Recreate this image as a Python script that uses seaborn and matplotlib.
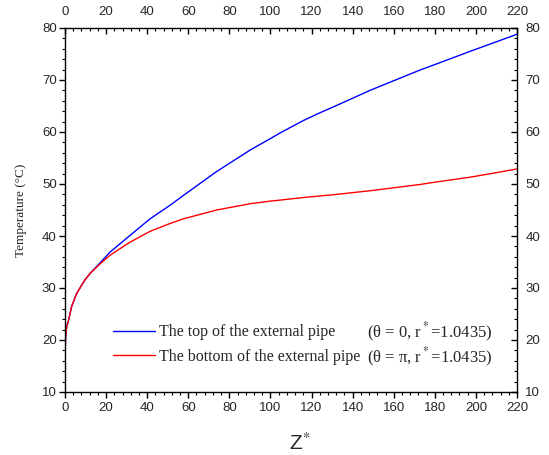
import numpy as np
import pandas as pd
import matplotlib
matplotlib.use("Agg")
import matplotlib.pyplot as plt
from matplotlib.ticker import MultipleLocator
from matplotlib.lines import Line2D
import seaborn as sns

z_top = [0, 0.1, 0.3, 0.8, 1.8, 3.2, 5.6, 9.6, 12.2, 17, 21.9, 31.6, 41.4, 51.1, 57.6, 73.8, 90,
         99.8, 104.6, 116, 124.1, 132.2, 148.4, 164.6, 172.7, 180.9, 197.1, 211.7, 220]
t_top = [15, 18, 20.6, 22.5, 23.9, 26.4, 28.9, 31.5, 32.8, 34.8, 36.9, 40.1, 43.3, 45.9, 47.8, 52.4, 56.5,
         58.7, 59.8, 62.2, 63.7, 65.1, 68.0, 70.6, 71.9, 73.1, 75.5, 77.6, 78.8]
z_bot = [0, 0.1, 0.3, 0.8, 1.8, 3.2, 5.6, 9.6, 12.2, 17, 21.9, 31.6, 41.4, 51.1, 57.6, 73.8, 90,
         99.8, 104.6, 116, 124.1, 132.2, 148.4, 164.6, 172.7, 180.9, 197.1, 211.7, 220]
t_bot = [15, 18, 20.6, 22.5, 23.9, 26.4, 28.9, 31.5, 32.8, 34.6, 36.3, 38.8, 40.9, 42.4, 43.3, 45.0, 46.2,
         46.7, 46.9, 47.4, 47.7, 48.0, 48.7, 49.5, 49.9, 50.4, 51.3, 52.3, 52.9]
labels = ["The top of the external pipe", "The bottom of the external pipe"]
params = ["(θ = 0, r$^*$=1.0435)", "(θ = π, r$^*$=1.0435)"]
x_ticks = list(range(0, 221, 20))
y_ticks = list(range(10, 81, 10))

df = pd.DataFrame({
    "z": z_top + z_bot,
    "T": t_top + t_bot,
    "series": [labels[0]] * len(z_top) + [labels[1]] * len(z_bot),
})

sns.set_style("white")
plt.rcParams["font.family"] = ["Liberation Sans", "DejaVu Sans"]
plt.rcParams["mathtext.fontset"] = "stix"

fig = plt.figure(figsize=(5.49, 4.55), dpi=100)
L, R, T, B = 65, 517, 28, 392
ax = fig.add_axes([L / 549, 1 - B / 455, (R - L) / 549, (B - T) / 455])
sns.lineplot(data=df, x="z", y="T", hue="series", palette=["#0000ff", "#ff0000"],
             linewidth=1.0, ax=ax, legend=False, sort=False, estimator=None)

ax.set_xlim(0, 220)
ax.set_ylim(10, 80)
ax.set_xticks(x_ticks)
ax.set_yticks(y_ticks)
ax.xaxis.set_minor_locator(MultipleLocator(4))
ax.yaxis.set_minor_locator(MultipleLocator(2))
for s in ax.spines.values():
    s.set_visible(True)
    s.set_linewidth(1.0)
    s.set_color("black")

ax.tick_params(axis="x", which="both", bottom=True, top=True, labelbottom=True, labeltop=True,
               labelsize=9.5, pad=3, color="black")
ax.tick_params(axis="y", which="both", left=True, right=True, labelleft=True, labelright=True,
               labelsize=9.5, pad=2, color="black")
ax.tick_params(which="major", length=4, width=1.0)
ax.tick_params(which="minor", length=2.2, width=0.8)
# bottom and left ticks outward, top and right ticks inward
for t in ax.xaxis.get_major_ticks() + ax.xaxis.get_minor_ticks():
    t.tick1line.set_marker(matplotlib.lines.TICKDOWN)
    t.tick2line.set_marker(matplotlib.lines.TICKDOWN)
for t in ax.yaxis.get_major_ticks() + ax.yaxis.get_minor_ticks():
    t.tick1line.set_marker(matplotlib.lines.TICKLEFT)
    t.tick2line.set_marker(matplotlib.lines.TICKLEFT)

ax.set_xlabel(r"Z$^{*}$", fontsize=15, labelpad=12)
ax.xaxis.set_label_coords(0.52, -0.11)
ax.set_ylabel("Temperature (°C)", fontsize=9.5, family="Liberation Serif")
ax.yaxis.set_label_coords(-0.085, 0.5)

handles = [Line2D([], [], color="#0000ff", lw=1.0), Line2D([], [], color="#ff0000", lw=1.0)]
leg = ax.legend(handles, labels, loc="center left",
                bbox_to_anchor=((113 - L) / (R - L), (B - 344.5) / (B - T)),
                frameon=False, borderpad=0, borderaxespad=0, handlelength=2.6,
                handletextpad=0.25, labelspacing=0.55,
                prop={"family": "Liberation Serif", "size": 11.5})
for i, p in enumerate(params):
    py = 332 + i * 25
    ax.text((367 - L) / (R - L), (B - py) / (B - T), p, transform=ax.transAxes, fontsize=12,
            family="Liberation Serif", va="center", ha="left")

fig.savefig("out.png", dpi=100)
